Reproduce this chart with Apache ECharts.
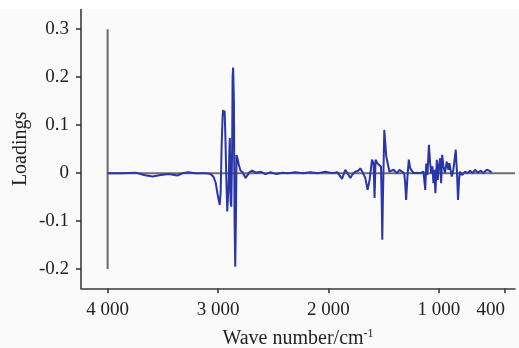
<!DOCTYPE html>
<html>
<head>
<meta charset="utf-8">
<script src="https://cdn.jsdelivr.net/npm/echarts@6/dist/echarts.min.js"></script>
<style>
html,body{margin:0;padding:0;background:#fafafa;}
#c{width:519px;height:348px;}
</style>
</head>
<body>
<div id="c"></div>
<script>
// Wave numbers (cm-1) and PC loadings
var waveNumbers = [4000,3880,3744,3672,3593,3518,3446,3367,3320,3274,3202,3112,3067,3040,3021,3003,2985,2976,2967,2958,2952,2945,2940,2932,2926,2916,2910,2904,2898,2893,2886,2880,2872,2868,2863,2856,2850,2844,2838,2832,2823,2811,2796,2777,2750,2732,2714,2690,2660,2615,2570,2524,2470,2416,2362,2299,2235,2163,2091,2028,1964,1919,1877,1847,1829,1801,1783,1756,1729,1711,1693,1666,1645,1627,1605,1591,1582,1573,1555,1537,1524,1517,1512,1507,1501,1494,1488,1476,1465,1447,1431,1410,1380,1356,1334,1314,1305,1296,1284,1272,1259,1229,1199,1169,1139,1123,1114,1103,1090,1078,1069,1058,1049,1040,1031,1018,1009,1000,988,979,970,958,945,928,913,904,883,868,856,847,835,826,817,808,790,762,742,717,693,672,648,621,597,566,543,521];
var loadings = [0,0,0.001,-0.004,-0.007,-0.004,-0.002,-0.005,0,0.002,0,0,-0.002,-0.008,-0.02,-0.045,-0.066,-0.04,0.06,0.12,0.132,0.12,0.13,0.066,0,-0.08,-0.05,-0.03,0.04,0.073,-0.06,-0.07,0.05,0.2,0.22,0.15,-0.1,-0.195,-0.1,0.038,0.03,0.017,0.005,0.002,-0.01,-0.008,0.002,0.005,0.001,0.003,-0.002,0.002,-0.002,0.001,0,0.002,0,0.002,0,0.003,0,0.002,-0.012,0.007,0.004,-0.01,-0.003,0.003,0.005,0.01,0.003,-0.01,-0.035,-0.014,0.028,0.02,-0.052,0.028,0.02,0.017,0.014,-0.06,-0.139,-0.06,0.007,0.09,0.088,0.035,0.031,0.003,0.006,0.007,0,0.007,0.003,0,-0.02,-0.056,-0.007,0.028,0.01,0,0.001,0,0.003,-0.035,0.02,-0.004,0.059,0.02,0,0.014,-0.021,0.007,-0.042,0.028,-0.014,0.014,0.031,-0.021,0.038,0.014,0,0.024,0.007,0.021,-0.007,0.007,0.007,0.049,0,-0.056,-0.014,0.003,-0.004,0.003,0,0.005,0,0.007,0.001,0.005,0,0.007,0.005,0.001];
var xTicks = [4000,3000,2000,1000,400];
var yTicks = [-0.2,-0.1,0,0.1,0.2,0.3];
var markerLine = [[4000,-0.2],[4000,0.3]];
var zeroLine = [[4000,0],[310,0]];

var spectrum = waveNumbers.map(function(w,i){return [w, loadings[i]];});
var font = 'Liberation Serif';
var axisCol = '#3c3c3c';

var chart = echarts.init(document.getElementById('c'), null, {renderer:'canvas'});
chart.setOption({
  animation:false,
  backgroundColor:'#fafafa',
  graphic:[{type:'rect', left:0, top:0, shape:{width:519,height:9}, style:{fill:'#ffffff'}, silent:true}],
  grid:{left:81,right:4,top:9.5,bottom:59.7,containLabel:false,outerBoundsMode:'none'},
  xAxis:{
    type:'value', inverse:true, min:310, max:4241,
    name:'Wave number/cm{s|-1}', nameLocation:'middle', nameGap:40,
    nameTextStyle:{fontFamily:font,fontSize:20,color:'#222',
      rich:{s:{fontFamily:font,fontSize:12,color:'#222',verticalAlign:'top',lineHeight:20}}},
    axisLine:{onZero:false,lineStyle:{color:axisCol,width:1.6}},
    axisTick:{show:true,length:5,lineStyle:{color:axisCol,width:1.6},customValues:xTicks},
    axisLabel:{fontFamily:font,fontSize:19,color:'#222',margin:12,customValues:xTicks,alignMaxLabel:'right',
      formatter:function(v){var s=String(v);return s.length>3?s.slice(0,s.length-3)+' '+s.slice(-3):s;}},
    splitLine:{show:false}
  },
  yAxis:{
    type:'value', min:-0.24, max:0.341,
    name:'Loadings', nameLocation:'middle', nameGap:50, nameRotate:90, nameMoveOverlap:false,
    nameTextStyle:{fontFamily:font,fontSize:20,color:'#222'},
    axisLine:{show:true,lineStyle:{color:axisCol,width:1.6}},
    axisTick:{show:true,length:5,lineStyle:{color:axisCol,width:1.6},customValues:yTicks},
    axisLabel:{fontFamily:font,fontSize:19,color:'#222',margin:12,customValues:yTicks,
      formatter:function(v){return v===0?'0':String(v);}},
    splitLine:{show:false}
  },
  series:[
    {type:'line',data:zeroLine,symbol:'none',lineStyle:{color:'#6e6e6e',width:2},z:1,silent:true},
    {type:'line',data:markerLine,symbol:'none',lineStyle:{color:'#6a6a6a',width:2},z:1,silent:true},
    {type:'line',data:spectrum,symbol:'none',lineStyle:{color:'#2a36a8',width:2},z:3}
  ]
});
</script>
</body>
</html>
